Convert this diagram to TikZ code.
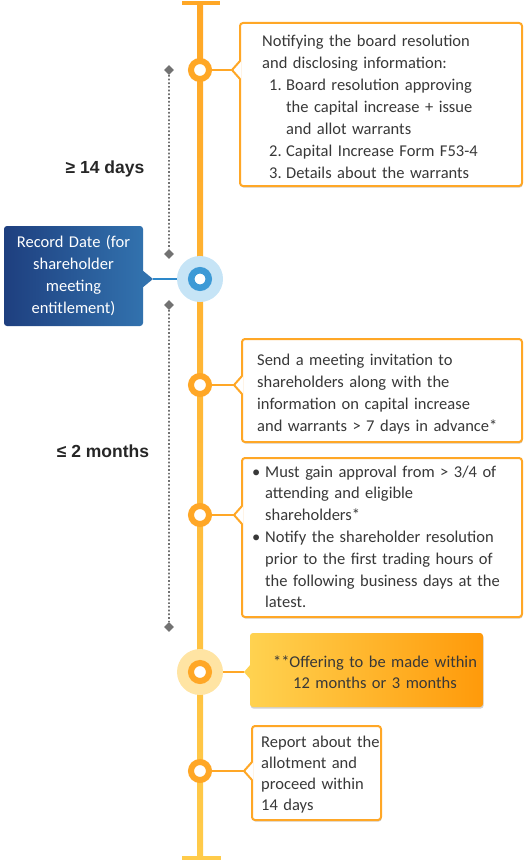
\documentclass[tikz,border=0pt]{standalone}
\usepackage{fontspec}
\setmainfont{Carlito}
\newfontfamily\lblfont{Liberation Sans}
\usetikzlibrary{shadows,calc}
\definecolor{orng}{HTML}{FFA726}
\definecolor{yel}{HTML}{FFCB4A}
\definecolor{txtc}{HTML}{383838}
\definecolor{blueD}{HTML}{1E3F7F}
\definecolor{blueL}{HTML}{3272AE}
\definecolor{blueRing}{HTML}{3D9AD6}
\definecolor{blueLine}{HTML}{2D88CA}
\definecolor{blueHalo}{HTML}{C6E4F6}
\definecolor{yelHalo}{HTML}{FFE4A3}
\definecolor{yelL}{HTML}{FFD250}
\definecolor{orgR}{HTML}{FF9A0A}
\definecolor{dotgray}{HTML}{727272}
\newcommand\boxnotch[2]{%
  \fill[white] (#1+1.2,#2-9) -- (#1-8,#2) -- (#1+1.2,#2+9) -- cycle;
  \draw[orng, line width=2pt, line join=round] (#1,#2-9) -- (#1-8,#2) -- (#1,#2+9);}
\newcommand\numlbl[1]{\hspace*{7pt}\makebox[17pt][l]{#1}}
\newcommand\numcont{\hspace*{24pt}}
\newcommand\bullbl{\makebox[13pt][l]{\textbullet}}
\newcommand\bulcont{\hspace*{13pt}}
\begin{document}
\begin{tikzpicture}[x=1pt,y=-1pt,
  box/.style={draw=orng, line width=2pt, fill=white, rounded corners=3pt, inner sep=0pt, outer sep=0pt,
    drop shadow={shadow xshift=0.6pt, shadow yshift=-1.6pt, opacity=0.18, fill=black}},
  txt/.style={text=txtc, inner sep=0pt, anchor=base west, align=left,
    font=\fontsize{16.5}{22}\selectfont},
  ring/.style={circle, draw=orng, line width=6pt, fill=white, minimum size=18pt, inner sep=0pt, outer sep=0pt},
  halo/.style={circle, minimum size=46pt, inner sep=0pt, outer sep=0pt},
  conn/.style={orng, line width=2pt},
  dia/.style={fill=dotgray, rotate=45, minimum size=7pt, inner sep=0pt, outer sep=0pt},
  dots/.style={dotgray, line width=1.7pt, dash pattern=on 1.7pt off 2pt},
  span/.style={text=black!85, inner sep=0pt, anchor=base, font=\lblfont\bfseries\fontsize{17.5}{20}\selectfont}]
\useasboundingbox (0,0) rectangle (529,861);

% timeline
\shade[top color=orng, bottom color=yel] (197,3) rectangle (203,858);
\fill[orng] (182,1) rectangle (220,5);
\fill[yel] (182,856) rectangle (221,860);

% dotted spans
\node[dia] (d1) at (169,70) {};
\node[dia] (d2) at (169,254) {};
\node[dia] (d3) at (169,305) {};
\node[dia] (d4) at (169,627) {};
\draw[dots] (d1) -- (d2);
\draw[dots] (d3) -- (d4);
\node[span] (s1) at (105,174) {≥ 14 days};
\node[span] (s2) at (103,457) {≤ 2 months};

% boxes
\node[box, minimum width=282pt, minimum height=163pt, anchor=north west] (b1) at (240,23) {};
\node[box, minimum width=280pt, minimum height=103pt, anchor=north west] (b2) at (242,339) {};
\node[box, minimum width=280pt, minimum height=159pt, anchor=north west] (b3) at (242,458) {};
\node[box, minimum width=129pt, minimum height=94pt, anchor=north west] (b6) at (252,726) {};
\node[rounded corners=3pt, left color=yelL, right color=orgR, minimum width=233pt, minimum height=74pt,
  inner sep=0pt, outer sep=0pt, anchor=north west,
  drop shadow={shadow xshift=0.6pt, shadow yshift=-1.6pt, opacity=0.18, fill=black}] (b5) at (250,633) {};
\node[rounded corners=3pt, left color=blueD, right color=blueL, minimum width=139pt, minimum height=100pt,
  inner sep=0pt, outer sep=0pt, anchor=north west] (rb) at (4,226) {};
\fill[blueL] (142,270) -- (153,279) -- (142,288) -- cycle;
\fill[yelL] (251,664) -- (244,672) -- (251,680) -- cycle;

% circles
\node[ring] (c1) at (200,70) {};
\node[halo, fill=blueHalo] (h2) at (200,279) {};
\node[ring, draw=blueRing, line width=6.5pt, minimum size=17.5pt] (c2) at (200,279) {};
\node[ring] (c3) at (200,385) {};
\node[ring] (c4) at (200,515) {};
\node[halo, fill=yelHalo] (h5) at (200,672) {};
\node[ring] (c5) at (200,672) {};
\node[ring] (c6) at (200,771) {};

% connectors
\draw[conn] (c1.east) -- ($(b1.west |- c1)+(-8,0)$);
\draw[conn] (c3.east) -- ($(b2.west |- c3)+(-8,0)$);
\draw[conn] (c4.east) -- ($(b3.west |- c4)+(-8,0)$);
\draw[conn] (h5.east) -- ($(b5.west |- h5)+(-6,0)$);
\draw[conn] (c6.east) -- ($(b6.west |- c6)+(-8,0)$);
\draw[blueLine, line width=2pt] (h2.west) -- ($(rb.east |- h2)+(10,0)$);
\boxnotch{240}{70}
\boxnotch{242}{385}
\boxnotch{242}{515}
\boxnotch{252}{771}

% texts
\node[txt, text width=255pt] (t1) at (262,47) {Notifying the board resolution\\
  and disclosing information:\\
  \numlbl{1.}Board resolution approving\\
  \numcont the capital increase + issue\\
  \numcont and allot warrants\\
  \numlbl{2.}Capital Increase Form F53-4\\
  \numlbl{3.}Details about the warrants};
\node[txt, text width=260pt] (t2) at (257,365) {Send a meeting invitation to\\shareholders along with the\\information on capital increase\\and warrants > 7 days in advance*};
\node[txt, text width=265pt, font=\fontsize{16.5}{21.8}\selectfont] (t3) at (252,477) {%
  \bullbl Must gain approval from > 3/4 of\\
  \bulcont attending and eligible\\
  \bulcont shareholders*\\
  \bullbl Notify the shareholder resolution\\
  \bulcont prior to the first trading hours of\\
  \bulcont the following business days at the\\
  \bulcont latest.};
\node[txt, text width=220pt, align=center, anchor=base, font=\fontsize{16.5}{21}\selectfont] (t5) at (375,667) {**Offering to be made within\\12 months or 3 months};
\node[txt, text width=125pt, font=\fontsize{16.5}{21.3}\selectfont] (t6) at (261,747) {Report about the\\allotment and\\proceed within\\14 days};
\node[txt, text=white, text width=135pt, align=center, anchor=base, font=\fontsize{16.5}{22.3}\selectfont] (t7) at (73.5,247) {Record Date (for\\shareholder\\meeting\\entitlement)};
\end{tikzpicture}
\end{document}
